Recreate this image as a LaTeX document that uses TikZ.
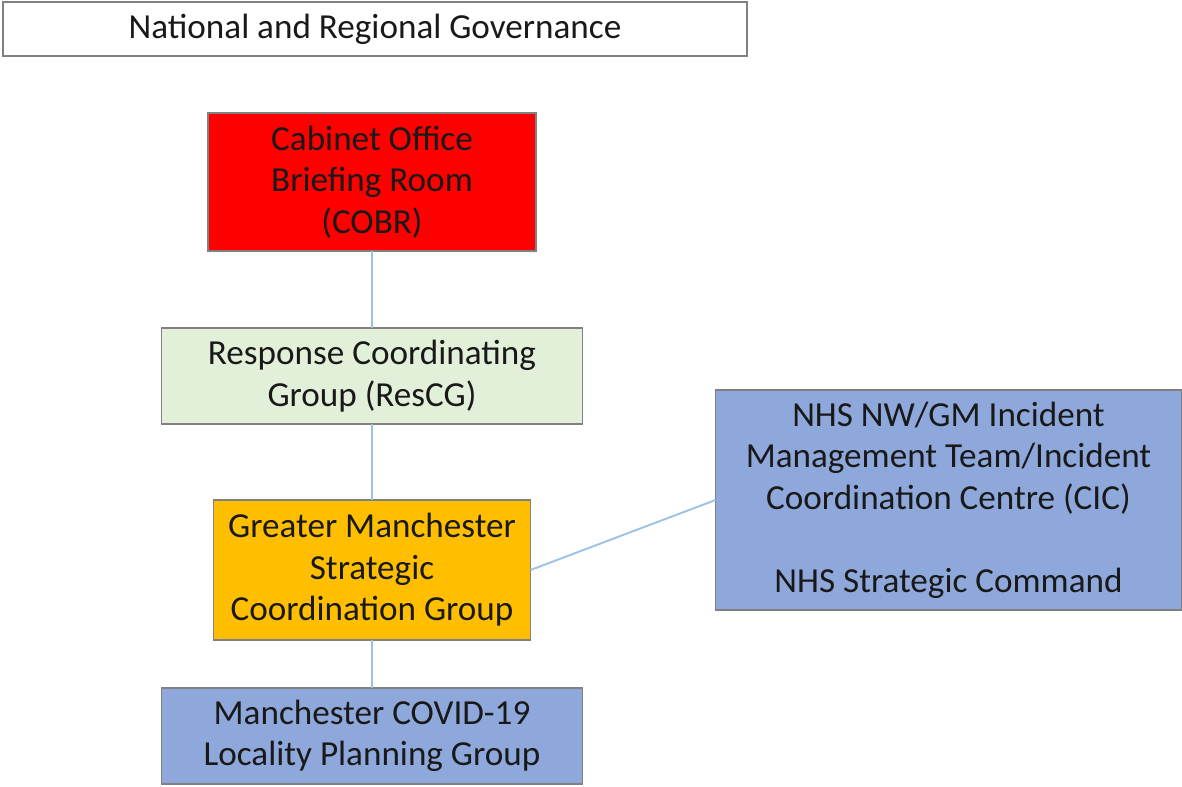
\documentclass[tikz,border=0pt]{standalone}
\usepackage{fontspec}
\setmainfont{Carlito}
\usepackage{color}
\definecolor{bd}{rgb}{0.50, 0.50, 0.50}
\definecolor{ln}{rgb}{0.62, 0.76, 0.90}
\definecolor{cr}{rgb}{1.00, 0.00, 0.00}
\definecolor{cg}{rgb}{0.89, 0.94, 0.85}
\definecolor{co}{rgb}{1.00, 0.75, 0.00}
\definecolor{cb}{rgb}{0.56, 0.66, 0.86}
\usepackage{tikz}
\usetikzlibrary{positioning}

\begin{document}
\begin{tikzpicture}[
                    every node/.style = {draw=bd, line width=1.1pt, inner sep=0pt, outer sep=0pt, align=center,
                                         text=black!90, font=\fontsize{20}{23.6}\selectfont},
                    every edge/.style = {draw=ln, line width=1.1pt}]
                \useasboundingbox (0,0) rectangle (23.64,-15.72);
                \node (gov) [fill=white, anchor=north west, minimum width=14.88cm, minimum height=1.08cm]
                      at (0.06,-0.04) {National and Regional Governance};
                \node (cobr) [fill=cr, minimum width=6.56cm, minimum height=2.76cm]
                      at (7.44,-3.64) {Cabinet Office\\Briefing Room\\(COBR)};
                \node (rescg) [fill=cg, minimum width=8.42cm, minimum height=1.92cm, below = 1.54cm of cobr]
                      {Response Coordinating\\Group (ResCG)};
                \node (gmscg) [fill=co, minimum width=6.34cm, minimum height=2.8cm, below = 1.52cm of rescg]
                      {Greater Manchester\\Strategic\\Coordination Group};
                \node (mcr) [fill=cb, minimum width=8.42cm, minimum height=1.92cm, below = 0.96cm of gmscg]
                      {Manchester COVID-19\\Locality Planning Group};
                \node (nhs) [fill=cb, minimum width=9.32cm, minimum height=4.4cm, right = 3.7cm of gmscg, yshift=1.4cm]
                      {NHS NW/GM Incident\\Management Team/Incident\\Coordination Centre (CIC)\\[23.6pt]NHS Strategic Command};
                \draw (cobr) edge (rescg);
                \draw (rescg) edge (gmscg);
                \draw (gmscg) edge (mcr);
                \draw (gmscg.east) edge (nhs.west);
            \end{tikzpicture}
\end{document}
